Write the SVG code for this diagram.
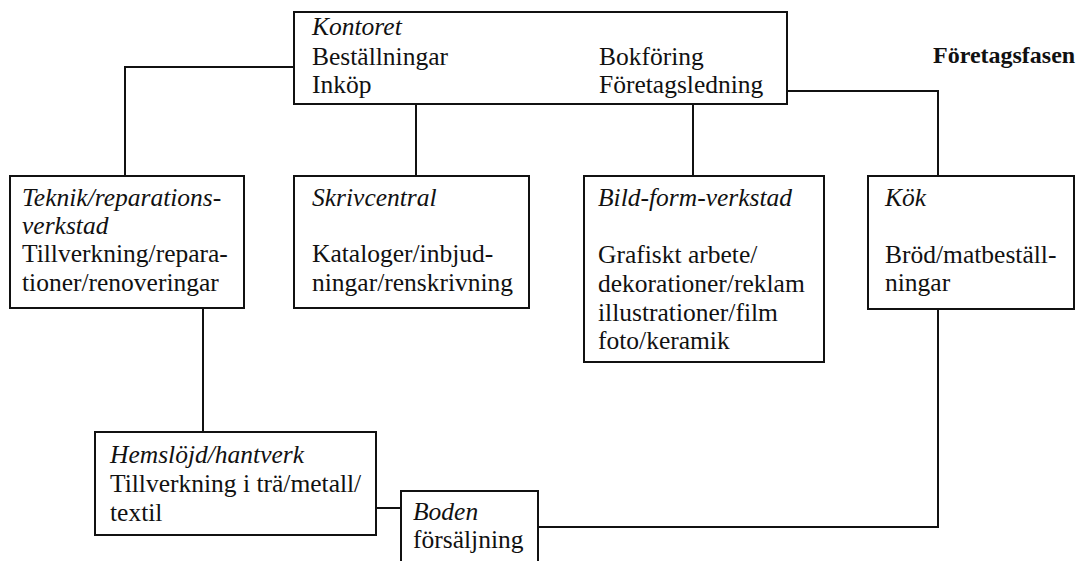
<svg xmlns="http://www.w3.org/2000/svg" width="1077" height="561" viewBox="0 0 1077 561">
<style>
  .box { fill: none; stroke: #111; stroke-width: 2; }
  .conn { fill: none; stroke: #111; stroke-width: 2; }
  text { font-family: "Liberation Serif", "Times New Roman", serif; font-size: 25.5px; fill: #111; }
  .it { font-style: italic; }
  .bold { font-weight: bold; font-size: 24px; }
</style>
<rect width="1077" height="561" fill="#fff"/>
<g id="connectors">
  <polyline class="conn" points="294,67 125,67 125,176"/>
  <line class="conn" x1="416" y1="104" x2="416" y2="176"/>
  <line class="conn" x1="693" y1="104" x2="693" y2="176"/>
  <polyline class="conn" points="787,91 938,91 938,176"/>
  <line class="conn" x1="203" y1="308" x2="203" y2="432"/>
  <line class="conn" x1="376" y1="508" x2="401" y2="508"/>
  <polyline class="conn" points="538,527 938,527 938,309"/>
</g>
<g id="kontoret">
  <rect class="box" x="294" y="12" width="493" height="92"/>
  <text class="it" x="312" y="35">Kontoret</text>
  <text x="312" y="64.5">Beställningar</text>
  <text x="312" y="93">Inköp</text>
  <text x="599" y="64.5">Bokföring</text>
  <text x="599" y="93">Företagsledning</text>
</g>
<g id="foretagsfasen">
  <text class="bold" x="933" y="63">Företagsfasen</text>
</g>
<g id="teknik">
  <rect class="box" x="10" y="176" width="234" height="132"/>
  <text class="it" x="22" y="206">Teknik/reparations-</text>
  <text class="it" x="22" y="234">verkstad</text>
  <text x="22" y="262">Tillverkning/repara-</text>
  <text x="22" y="291">tioner/renoveringar</text>
</g>
<g id="skrivcentral">
  <rect class="box" x="294" y="176" width="235" height="132"/>
  <text class="it" x="312" y="206">Skrivcentral</text>
  <text x="312" y="262">Kataloger/inbjud-</text>
  <text x="312" y="291">ningar/renskrivning</text>
</g>
<g id="bild">
  <rect class="box" x="584" y="176" width="240" height="186"/>
  <text class="it" x="598" y="206">Bild-form-verkstad</text>
  <text x="598" y="263">Grafiskt arbete/</text>
  <text x="598" y="292">dekorationer/reklam</text>
  <text x="598" y="320.5">illustrationer/film</text>
  <text x="598" y="349">foto/keramik</text>
</g>
<g id="kok">
  <rect class="box" x="868" y="176" width="206" height="133"/>
  <text class="it" x="885" y="206">Kök</text>
  <text x="885" y="263">Bröd/matbeställ-</text>
  <text x="885" y="291">ningar</text>
</g>
<g id="hemslojd">
  <rect class="box" x="95" y="432" width="281" height="103"/>
  <text class="it" x="110" y="463">Hemslöjd/hantverk</text>
  <text x="110" y="492">Tillverkning i trä/metall/</text>
  <text x="110" y="521">textil</text>
</g>
<g id="boden">
  <polyline class="box" points="401,562 401,491 538,491 538,562"/>
  <text class="it" x="413" y="520">Boden</text>
  <text x="413" y="548">försäljning</text>
</g>
</svg>
